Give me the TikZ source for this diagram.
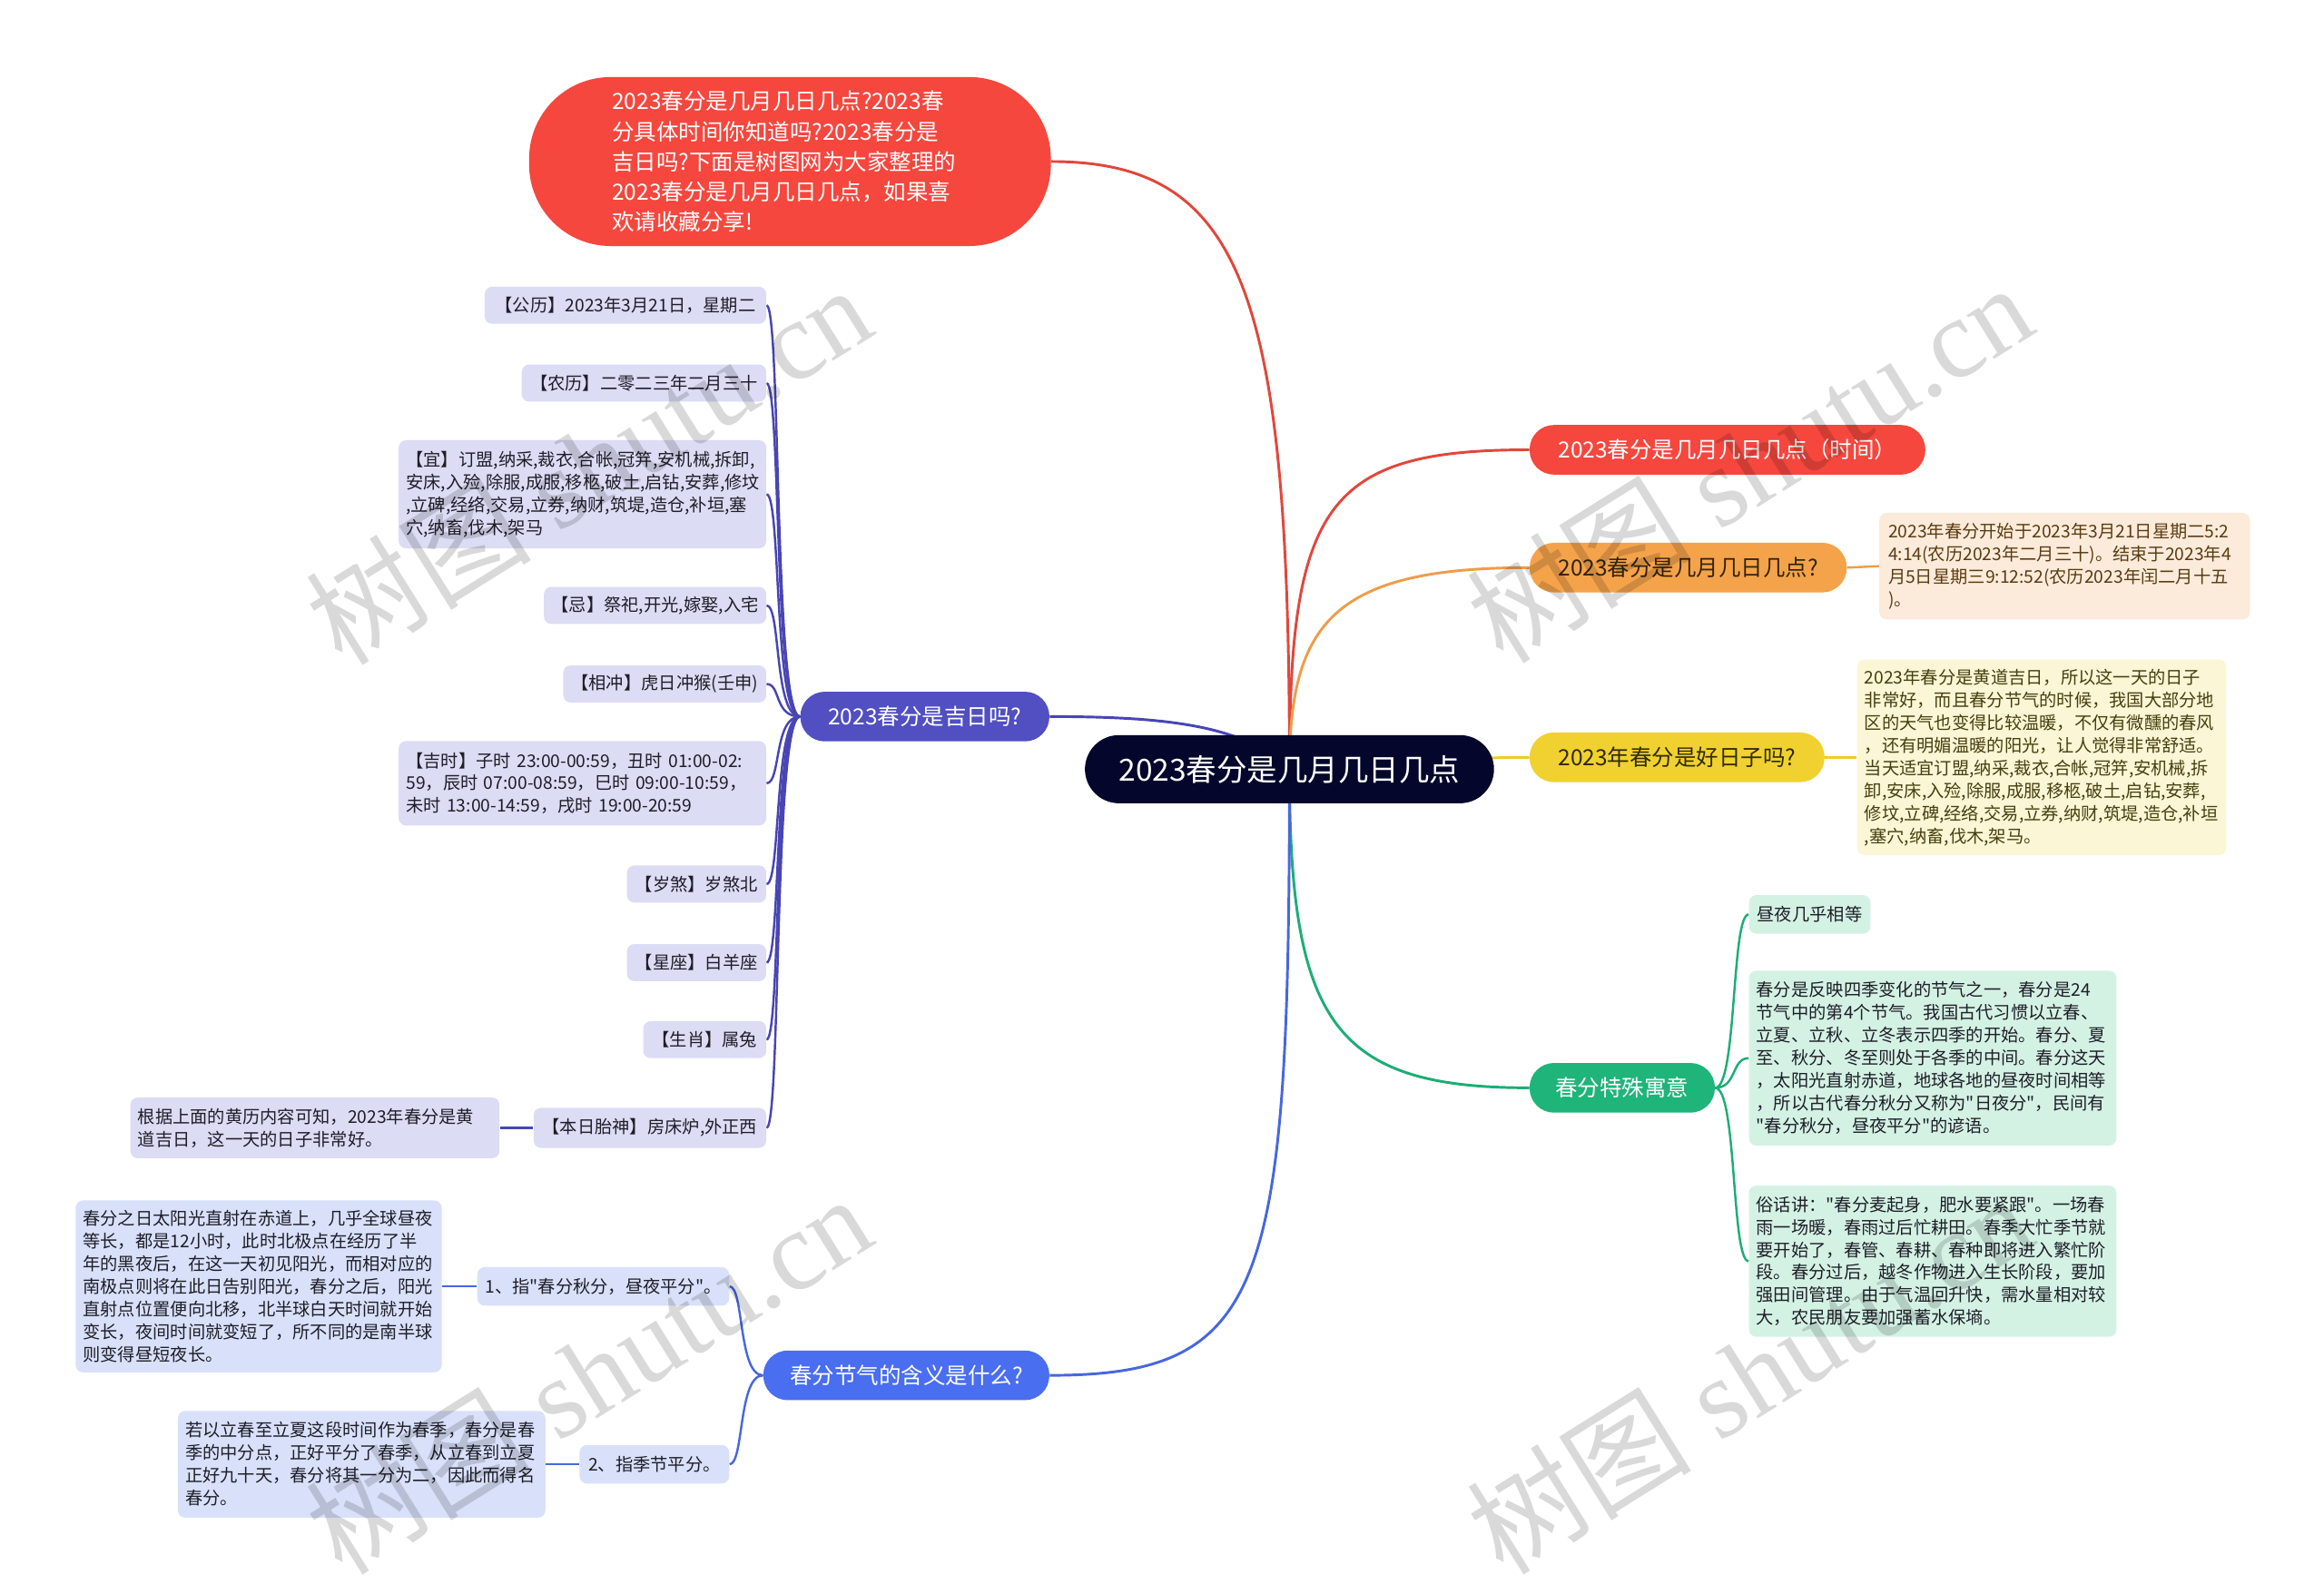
\documentclass[tikz,border=0pt]{standalone}
\usepackage{fontspec}
\setmainfont{Noto Sans CJK SC}
\newfontfamily\cjkmain{Noto Sans CJK SC}
\newfontfamily\wmlatin{Liberation Serif}
\newfontfamily\wmcjk{Noto Sans CJK SC}
\usetikzlibrary{backgrounds}
\definecolor{cRoot}{HTML}{04062B}
\definecolor{cRed}{HTML}{F5473E}
\definecolor{cRedLine}{HTML}{E2463B}
\definecolor{cOrange}{HTML}{F4A34B}
\definecolor{cOrangeLine}{HTML}{EE9D4B}
\definecolor{cOrangeText}{HTML}{33240E}
\definecolor{cOrangeLeaf}{HTML}{FCEBDA}
\definecolor{cOrangeLeafText}{HTML}{5A3B12}
\definecolor{cYellow}{HTML}{F1D12F}
\definecolor{cYellowLine}{HTML}{EDCB2E}
\definecolor{cYellowText}{HTML}{2F2A08}
\definecolor{cYellowLeaf}{HTML}{FBF6D5}
\definecolor{cYellowLeafText}{HTML}{463F10}
\definecolor{cGreen}{HTML}{1FB47A}
\definecolor{cGreenLine}{HTML}{1BAE75}
\definecolor{cGreenLeaf}{HTML}{D4F2E4}
\definecolor{cIndigo}{HTML}{514FC1}
\definecolor{cIndigoLine}{HTML}{4845B4}
\definecolor{cIndigoLeaf}{HTML}{DCDCF5}
\definecolor{cBlue}{HTML}{4A6EF0}
\definecolor{cBlueLine}{HTML}{4767DF}
\definecolor{cBlueLeaf}{HTML}{D9E1FA}
\definecolor{cDarkText}{HTML}{1E1E28}
\tikzset{
  rootbox/.style={fill=cRoot, text=white, rounded corners=23pt, minimum width=276pt, minimum height=46pt, inner sep=0pt, font=\cjkmain\fontsize{20.5}{24}\selectfont},
  introbox/.style={fill=cRed, text=white, rounded corners=55pt, text width=240pt, inner xsep=56pt, inner ysep=0pt, minimum height=114pt, align=left, font=\cjkmain\fontsize{15}{20.3}\selectfont},
  topicbox/.style={rounded corners=16.5pt, inner sep=0pt, minimum height=33.5pt, font=\cjkmain\fontsize{15}{18}\selectfont},
  leafone/.style={rounded corners=5pt, inner sep=0pt, minimum height=25pt, text=cDarkText, font=\cjkmain\fontsize{11.8}{15.3}\selectfont},
  leafmany/.style={rounded corners=5pt, inner xsep=5pt, inner ysep=0pt, align=left, text=cDarkText, font=\cjkmain\fontsize{11.8}{15.3}\selectfont},
  mainlink/.style={line width=1.8pt},
  sublink/.style={line width=1.5pt},
  wmark/.style={rotate=32, text=black, text opacity=0.15, font=\wmlatin\fontsize{76}{80}\selectfont, inner sep=0pt}
}
\begin{document}
\begin{tikzpicture}[x=1pt,y=-1pt]
\useasboundingbox (0,0) rectangle (1568,1075.5);
% central and first-level nodes
\node[rootbox] (C) at (870,519) {2023春分是几月几日几点};
\node[introbox] (I) at (533,109) {2023春分是几月几日几点?2023春\\分具体时间你知道吗?2023春分是\\吉日吗?下面是树图网为大家整理的\\2023春分是几月几日几点，如果喜\\欢请收藏分享!};
\node[topicbox, fill=cRed, text=white, minimum width=267pt] (R1) at (1165.5,303.5) {2023春分是几月几日几点（时间）};
\node[topicbox, fill=cOrange, text=cOrangeText, minimum width=214pt] (R2) at (1139,383) {2023春分是几月几日几点?};
\node[topicbox, fill=cYellow, text=cYellowText, minimum width=199pt] (R3) at (1131.5,511) {2023年春分是好日子吗?};
\node[topicbox, fill=cGreen, text=white, minimum width=125pt] (R4) at (1094.5,734) {春分特殊寓意};
\node[topicbox, fill=cIndigo, text=white, minimum width=168pt] (L1) at (624,483.5) {2023春分是吉日吗?};
\node[topicbox, fill=cBlue, text=white, minimum width=193pt] (L2) at (611.5,928) {春分节气的含义是什么?};
% right leaves
\node[leafmany, fill=cOrangeLeaf, text=cOrangeLeafText, text width=238pt, inner xsep=6pt, minimum height=72pt] (R2a) at (1393,382) {2023年春分开始于2023年3月21日星期二5:2\\4:14(农历2023年二月三十)。结束于2023年4\\月5日星期三9:12:52(农历2023年闰二月十五\\)。};
\node[leafmany, fill=cYellowLeaf, text=cYellowLeafText, text width=239pt, minimum height=132pt] (R3a) at (1377.5,511) {2023年春分是黄道吉日，所以这一天的日子\\非常好，而且春分节气的时候，我国大部分地\\区的天气也变得比较温暖，不仅有微醺的春风\\，还有明媚温暖的阳光，让人觉得非常舒适。\\当天适宜订盟,纳采,裁衣,合帐,冠笄,安机械,拆\\卸,安床,入殓,除服,成服,移柩,破土,启钻,安葬,\\修坟,立碑,经络,交易,立券,纳财,筑堤,造仓,补垣\\,塞穴,纳畜,伐木,架马。};
\node[leafone, fill=cGreenLeaf, minimum width=82pt, minimum height=26pt] (R4a) at (1221,617) {昼夜几乎相等};
\node[leafmany, fill=cGreenLeaf, text width=238pt, minimum height=118pt] (R4b) at (1304,714) {春分是反映四季变化的节气之一，春分是24\\节气中的第4个节气。我国古代习惯以立春、\\立夏、立秋、立冬表示四季的开始。春分、夏\\至、秋分、冬至则处于各季的中间。春分这天\\，太阳光直射赤道，地球各地的昼夜时间相等\\，所以古代春分秋分又称为"日夜分"，民间有\\"春分秋分，昼夜平分"的谚语。};
\node[leafmany, fill=cGreenLeaf, text width=238pt, minimum height=102pt] (R4c) at (1304,851) {俗话讲："春分麦起身，肥水要紧跟"。一场春\\雨一场暖，春雨过后忙耕田。春季大忙季节就\\要开始了，春管、春耕、春种即将进入繁忙阶\\段。春分过后，越冬作物进入生长阶段，要加\\强田间管理。由于气温回升快，需水量相对较\\大，农民朋友要加强蓄水保墒。};
% left leaves of L1
\node[leafone, fill=cIndigoLeaf, minimum width=190pt] (La) at (422,206) {【公历】2023年3月21日，星期二};
\node[leafone, fill=cIndigoLeaf, minimum width=165pt] (Lb) at (434.5,258.5) {【农历】二零二三年二月三十};
\node[leafmany, fill=cIndigoLeaf, text width=238pt, minimum height=73pt] (Lc) at (393,333.5) {【宜】订盟,纳采,裁衣,合帐,冠笄,安机械,拆卸,\\安床,入殓,除服,成服,移柩,破土,启钻,安葬,修坟\\,立碑,经络,交易,立券,纳财,筑堤,造仓,补垣,塞\\穴,纳畜,伐木,架马};
\node[leafone, fill=cIndigoLeaf, minimum width=150pt] (Ld) at (442,408.5) {【忌】祭祀,开光,嫁娶,入宅};
\node[leafone, fill=cIndigoLeaf, minimum width=137pt] (Le) at (448.5,461.5) {【相冲】虎日冲猴(壬申)};
\node[leafmany, fill=cIndigoLeaf, text width=238pt, minimum height=57pt] (Lf) at (393,528.5) {【吉时】子时 23:00-00:59，丑时 01:00-02:\\59，辰时 07:00-08:59，巳时 09:00-10:59，\\未时 13:00-14:59，戌时 19:00-20:59};
\node[leafone, fill=cIndigoLeaf, minimum width=94pt] (Lg) at (470,596.5) {【岁煞】岁煞北};
\node[leafone, fill=cIndigoLeaf, minimum width=94pt] (Lh) at (470,649.5) {【星座】白羊座};
\node[leafone, fill=cIndigoLeaf, minimum width=83pt] (Li) at (475.5,701.5) {【生肖】属兔};
\node[leafone, fill=cIndigoLeaf, minimum width=157pt, minimum height=27pt] (Lj) at (438.5,761) {【本日胎神】房床炉,外正西};
\node[leafmany, fill=cIndigoLeaf, text width=239pt, minimum height=41pt] (Lk) at (212.5,761) {根据上面的黄历内容可知，2023年春分是黄\\道吉日，这一天的日子非常好。};
% left leaves of L2
\node[leafone, fill=cBlueLeaf, minimum width=170pt, minimum height=26pt] (Lm) at (407,868) {1、指"春分秋分，昼夜平分"。};
\node[leafmany, fill=cBlueLeaf, text width=237pt, minimum height=116pt] (Ln) at (174.5,868) {春分之日太阳光直射在赤道上，几乎全球昼夜\\等长，都是12小时，此时北极点在经历了半\\年的黑夜后，在这一天初见阳光，而相对应的\\南极点则将在此日告别阳光，春分之后，阳光\\直射点位置便向北移，北半球白天时间就开始\\变长，夜间时间就变短了，所不同的是南半球\\则变得昼短夜长。};
\node[leafone, fill=cBlueLeaf, minimum width=101pt, minimum height=26pt] (Lo) at (441.5,988) {2、指季节平分。};
\node[leafmany, fill=cBlueLeaf, text width=238pt, minimum height=72pt] (Lp) at (244,988) {若以立春至立夏这段时间作为春季，春分是春\\季的中分点，正好平分了春季，从立春到立夏\\正好九十天，春分将其一分为二，因此而得名\\春分。};
% connectors
\begin{scope}[on background layer]
\fill[white] (0,0) rectangle (1568,1075.5);
\draw[mainlink, cRedLine] (I.east) .. controls (840,109) and (870,200) .. (C.center);
\draw[mainlink, cRedLine] (C.center) .. controls (870,340) and (895,303.5) .. (R1.west);
\draw[mainlink, cOrangeLine] (C.center) .. controls (870,420) and (900,383) .. (R2.west);
\draw[mainlink, cYellowLine] (C.center) .. controls (950,519) and (960,511) .. (R3.west);
\draw[mainlink, cGreenLine] (C.center) .. controls (870,690) and (900,734) .. (R4.west);
\draw[mainlink, cBlueLine] (C.center) .. controls (870,870) and (855,928) .. (L2.east);
\draw[mainlink, cIndigoLine] (L1.east) .. controls (790,483.5) and (840,490) .. (C.center);
\draw[sublink, cOrangeLine] (R2.east) -- (R2a.west);
\draw[sublink, cYellowLine] (R3.east) -- (R3a.west);
\foreach \n in {R4a,R4b,R4c}
  \draw[sublink, cGreenLine] (R4.east) .. controls (1172,734) and (1168,0|-\n.west) .. (\n.west);
\foreach \n in {La,Lb,Lc,Ld,Le,Lf,Lg,Lh,Li,Lj}
  \draw[sublink, cIndigoLine] (L1.west) .. controls (522,483.5) and (527,0|-\n.east) .. (\n.east);
\draw[sublink, cIndigoLine] (Lj.west) -- (Lk.east);
\foreach \n in {Lm,Lo}
  \draw[sublink, cBlueLine] (L2.west) .. controls (498,928) and (502,0|-\n.east) .. (\n.east);
\draw[sublink, cBlueLine] (Lm.west) -- (Ln.east);
\draw[sublink, cBlueLine] (Lo.west) -- (Lp.east);
\end{scope}
% watermarks
\node[wmark] (W1) at (397,313) {{\wmcjk 树图} shutu.cn};
\node[wmark] (W2) at (1180,312) {{\wmcjk 树图} shutu.cn};
\node[wmark] (W3) at (397,927) {{\wmcjk 树图} shutu.cn};
\node[wmark] (W4) at (1180,927) {{\wmcjk 树图} shutu.cn};
\end{tikzpicture}
\end{document}
